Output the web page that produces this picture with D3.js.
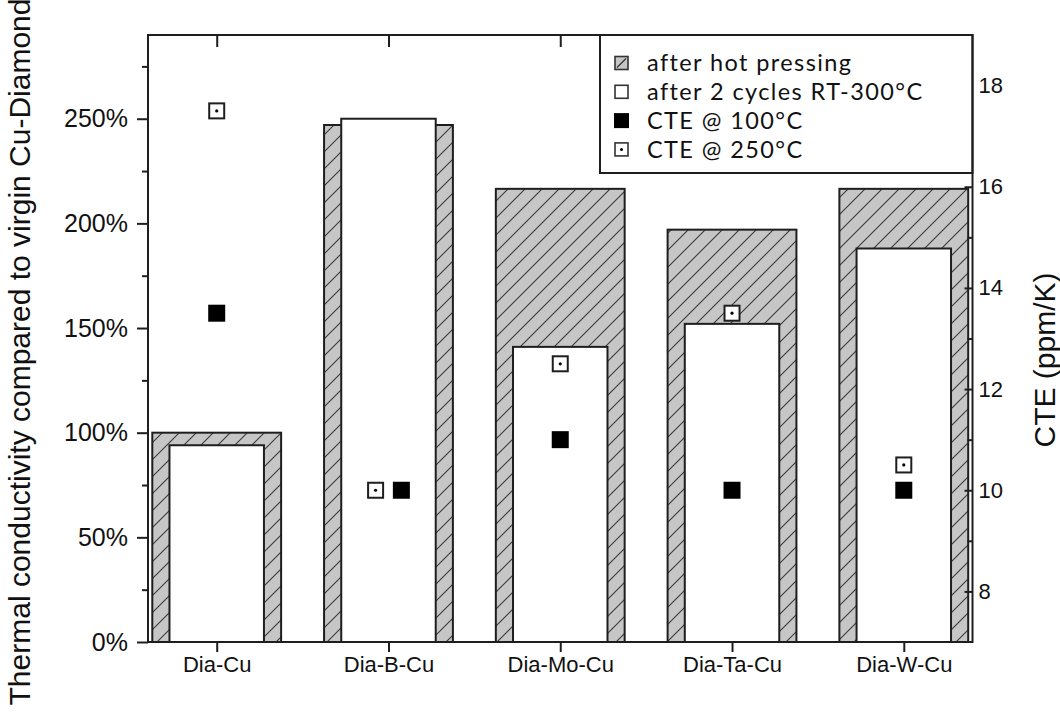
<!DOCTYPE html>
<html>
<head>
<meta charset="utf-8">
<script src="https://cdn.jsdelivr.net/npm/d3@7"></script>
<style>
  html, body { margin: 0; padding: 0; background: #fff; }
  svg { display: block; }
</style>
</head>
<body>
<svg id="chart" width="1060" height="712"></svg>
<script>
// Sample names and measured values
const categories = ["Dia-Cu", "Dia-B-Cu", "Dia-Mo-Cu", "Dia-Ta-Cu", "Dia-W-Cu"];
// Thermal conductivity relative to virgin Cu-Diamond (%)
const afterHotPressing = [100, 247, 216.5, 197, 216.5];
const afterCycling = [94, 250, 141, 152, 188];
// Coefficient of thermal expansion (ppm/K)
const cte100 = [13.5, 10, 11, 10, 10];
const cte250 = [17.5, 10, 12.5, 13.5, 10.5];
// Axis ticks
const leftTicks = [0, 50, 100, 150, 200, 250];
const leftMinor = [25, 75, 125, 175, 225, 275];
const rightTicks = [8, 10, 12, 14, 16, 18];
const rightMinor = [9, 11, 13, 15, 17];
const legendLabels = ["after hot pressing", "after 2 cycles RT-300°C", "CTE @ 100°C", "CTE @ 250°C"];

const svg = d3.select("#chart");
const L = 148, R = 972.5, T = 35, B = 642;
const ink = "#1e1e1e";
const axisFont = "'Liberation Sans', Arial, sans-serif";

const x = d3.scaleLinear().domain([0.6, 5.4]).range([L, R]);
const yL = d3.scaleLinear().domain([0, 290]).range([B, T]);
const yR = d3.scaleLinear().domain([7, 19]).range([B, T]);

// Hatch for the hot-pressed bars
const defs = svg.append("defs");
const pat = defs.append("pattern").attr("id", "hatch")
  .attr("patternUnits", "userSpaceOnUse").attr("width", 17).attr("height", 17);
pat.append("rect").attr("width", 17).attr("height", 17).attr("fill", "#c6c6c6");
pat.append("path").attr("d", "M0,17L17,0M-4,4L4,-4M13,21L21,13")
  .attr("stroke", "#3a3a3a").attr("stroke-width", 1.1);

const outerW = 0.75, innerW = 0.55;
const idx = categories.map((_, i) => i + 1);

// Bars: hot pressed (hatched) behind the cycled (white) bars
svg.append("g").selectAll("rect").data(idx).join("rect")
  .attr("x", d => x(d - outerW / 2))
  .attr("width", d => x(d + outerW / 2) - x(d - outerW / 2))
  .attr("y", (d, i) => yL(afterHotPressing[i]))
  .attr("height", (d, i) => yL(0) - yL(afterHotPressing[i]))
  .attr("fill", "url(#hatch)").attr("stroke", ink).attr("stroke-width", 2);

svg.append("g").selectAll("rect").data(idx).join("rect")
  .attr("x", d => x(d - innerW / 2))
  .attr("width", d => x(d + innerW / 2) - x(d - innerW / 2))
  .attr("y", (d, i) => yL(afterCycling[i]))
  .attr("height", (d, i) => yL(0) - yL(afterCycling[i]))
  .attr("fill", "#fff").attr("stroke", ink).attr("stroke-width", 2);

// CTE markers; coinciding values are set side by side
const dodge = i => (cte100[i] === cte250[i] ? 0.075 : 0);
const fs = 17, os = 15;
svg.append("g").selectAll("rect").data(idx).join("rect")
  .attr("x", (d, i) => x(d + dodge(i)) - fs / 2)
  .attr("y", (d, i) => yR(cte100[i]) - fs / 2)
  .attr("width", fs).attr("height", fs).attr("fill", "#000");

const open = svg.append("g").selectAll("g").data(idx).join("g")
  .attr("transform", (d, i) => `translate(${x(d - dodge(i))},${yR(cte250[i])})`);
open.append("rect").attr("x", -os / 2).attr("y", -os / 2).attr("width", os).attr("height", os)
  .attr("fill", "#fff").attr("stroke", ink).attr("stroke-width", 2);
open.append("circle").attr("r", 1.6).attr("fill", "#000");

// Axes
function styleAxis(g) {
  g.select(".domain").remove();
  g.selectAll("line").attr("stroke", ink).attr("stroke-width", 2);
  g.selectAll("text").attr("fill", "#111").attr("font-family", axisFont);
}

svg.append("g").attr("transform", `translate(${L},0)`)
  .call(d3.axisLeft(yL).tickValues(leftTicks).tickFormat(d => d + "%").tickSize(11).tickPadding(9))
  .call(styleAxis).selectAll("text").attr("font-size", 25);
svg.append("g").attr("transform", `translate(${L},0)`)
  .call(d3.axisLeft(yL).tickValues(leftMinor).tickFormat("").tickSize(6))
  .call(styleAxis);

svg.append("g").attr("transform", `translate(${R},0)`)
  .call(d3.axisRight(yR).tickValues(rightTicks).tickSize(-8).tickPadding(6))
  .call(styleAxis).selectAll("text").attr("font-size", 22);
svg.append("g").attr("transform", `translate(${R},0)`)
  .call(d3.axisRight(yR).tickValues(rightMinor).tickFormat("").tickSize(-5))
  .call(styleAxis);

svg.append("g").attr("transform", `translate(0,${B})`)
  .call(d3.axisBottom(x).tickValues(idx).tickFormat(d => categories[d - 1]).tickSize(10).tickPadding(4))
  .call(styleAxis).selectAll("text").attr("font-size", 22);
svg.append("g").attr("transform", `translate(0,${T})`)
  .call(d3.axisTop(x).tickValues(idx).tickFormat("").tickSize(-12))
  .call(styleAxis);

// Legend box
const lg = svg.append("g");
lg.append("rect").attr("x", 600).attr("y", T).attr("width", R - 600).attr("height", 138)
  .attr("fill", "#fff").attr("stroke", ink).attr("stroke-width", 2);
const rowY = i => 63 + i * 28.8;
const sw = 13, sx = 615;
legendLabels.forEach((lab, i) => {
  const cy = rowY(i);
  if (i === 0) {
    lg.append("rect").attr("x", sx).attr("y", cy - sw / 2).attr("width", sw).attr("height", sw)
      .attr("fill", "#c6c6c6").attr("stroke", "#333").attr("stroke-width", 1.6);
    lg.append("line").attr("x1", sx + 2).attr("y1", cy + sw / 2 - 2).attr("x2", sx + sw - 2).attr("y2", cy - sw / 2 + 2)
      .attr("stroke", "#333").attr("stroke-width", 1.2);
  } else if (i === 1) {
    lg.append("rect").attr("x", sx).attr("y", cy - sw / 2).attr("width", sw).attr("height", sw)
      .attr("fill", "#fff").attr("stroke", "#333").attr("stroke-width", 1.6);
  } else if (i === 2) {
    lg.append("rect").attr("x", sx - 1).attr("y", cy - sw / 2 - 1).attr("width", sw + 2).attr("height", sw + 2)
      .attr("fill", "#000");
  } else {
    lg.append("rect").attr("x", sx).attr("y", cy - sw / 2).attr("width", sw).attr("height", sw)
      .attr("fill", "#fff").attr("stroke", "#333").attr("stroke-width", 1.6);
    lg.append("circle").attr("cx", sx + sw / 2).attr("cy", cy).attr("r", 1.5).attr("fill", "#000");
  }
  lg.append("text").attr("x", 647).attr("y", cy).attr("dy", "0.36em")
    .attr("font-family", "Lato, 'Open Sans', sans-serif").attr("font-size", 23.5)
    .attr("letter-spacing", 1.4).attr("fill", "#111")
    .text(lab);
});

// Plot frame
svg.append("rect").attr("x", L).attr("y", T).attr("width", R - L).attr("height", B - T)
  .attr("fill", "none").attr("stroke", ink).attr("stroke-width", 2);

// Axis titles
svg.append("text")
  .attr("transform", `translate(30,352) rotate(-90)`)
  .attr("text-anchor", "middle").attr("font-family", axisFont).attr("font-size", 30).attr("fill", "#111")
  .text("Thermal conductivity compared to virgin Cu-Diamond");
svg.append("text")
  .attr("transform", `translate(1055,360) rotate(-90)`)
  .attr("text-anchor", "middle").attr("font-family", axisFont).attr("font-size", 30).attr("fill", "#111")
  .text("CTE (ppm/K)");
</script>
</body>
</html>
